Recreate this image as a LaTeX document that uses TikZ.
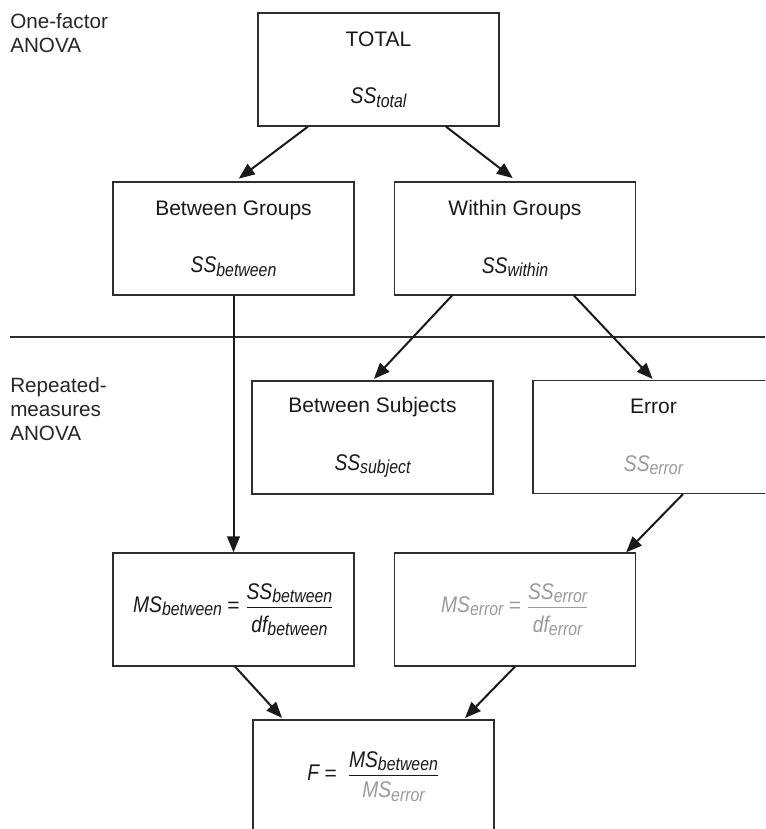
\documentclass[tikz,border=0pt]{standalone}
\usepackage{fontspec}
\setmainfont{Liberation Sans}
\usepackage{amsmath}
\usepackage{graphicx}
\usetikzlibrary{arrows.meta,calc}
\definecolor{errgray}{HTML}{9A9A9A}
\definecolor{boxline}{HTML}{2E2E2E}
\newcommand{\anovaterm}[2]{\mbox{\scalebox{0.85}[1]{\fontsize{17}{19}\selectfont\itshape
  #1\raisebox{-2.5pt}{\fontsize{14}{16}\selectfont #2}}}}
\newcommand{\anovaeq}{\mathrel{\text{=}}}
\newcommand{\denstrut}[1]{\rule{0pt}{#1}}
\tikzset{
  sumbox/.style={draw=boxline, line width=0.9pt, minimum width=180.75pt,
                 minimum height=84.75pt, inner sep=0pt, align=center, text=black!90,
                 font=\fontsize{15.75}{19}\selectfont},
  flow/.style={-{Triangle[length=12pt,width=9.5pt]}, line width=1.5pt, black!90},
  sidelabel/.style={anchor=north west, align=left, inner sep=0pt, text=black!85,
                    font=\fontsize{15.5}{18}\selectfont},
}

\begin{document}
\begin{tikzpicture}[x=0.75pt, y=-0.75pt]
    \useasboundingbox (0,0) rectangle (765,829);
    \clip (0,0) rectangle (765,829);
    \node[sidelabel] (onefactor) at (10,13.5) {One-factor\\ANOVA};
    \node[sidelabel] (repeated) at (10,377.5) {Repeated-\\measures\\ANOVA};
    \draw[boxline, line width=0.8pt] (10,337) -- (765,337);
    \node[sumbox] (total) at (378.5,69.5) {TOTAL\\[24pt]\anovaterm{SS}{total}};
    \node[sumbox] (bgroups) at (233.5,238.5) {Between Groups\\[24pt]\anovaterm{SS}{between}};
    \node[sumbox] (wgroups) at (515,238.5) {Within Groups\\[24pt]\anovaterm{SS}{within}};
    \node[sumbox] (bsubj) at (372.5,437.5) {Between Subjects\\[24pt]\anovaterm{SS}{subject}};
    \node[sumbox] (err) at (653.5,437) {Error\\[24pt]\textcolor{errgray}{\anovaterm{SS}{error}}};
    \node[sumbox] (msb) at (233.5,609.5)
      {$\anovaterm{MS}{between} \anovaeq
        \dfrac{\anovaterm{SS}{between}}{\denstrut{16.5pt}\anovaterm{df}{between}}$};
    \node[sumbox, text=errgray] (mse) at (515,609.5)
      {$\anovaterm{MS}{error} \anovaeq
        \dfrac{\anovaterm{SS}{error}}{\denstrut{16.5pt}\anovaterm{df}{error}}$};
    \node[sumbox] (fratio) at (373.5,776.5)
      {$\mbox{\scalebox{0.85}[1]{\fontsize{17}{19}\selectfont\itshape F}} \anovaeq\;
        \dfrac{\anovaterm{MS}{between}}{\denstrut{14.5pt}\textcolor{errgray}{\anovaterm{MS}{error}}}$};
    \draw[flow, shorten >=3.5pt] ($(total.south)+(-70.5,0)$) -- ($(bgroups.north)+(1.5,0)$);
    \draw[flow, shorten >=4pt] ($(total.south)+(67.5,0)$) -- ($(wgroups.north)+(2,0)$);
    \draw[flow] (bgroups.south) -- (msb.north);
    \draw[flow, shorten >=1.5pt] ($(wgroups.south)+(-63,0)$) -- (bsubj.north);
    \draw[flow, shorten >=1pt] ($(wgroups.south)+(59,0)$) -- (err.north);
    \draw[flow] ($(err.south)+(29.5,0)$) -- ($(mse.north east)+(-10,0)$);
    \draw[flow, shorten >=1.5pt] ($(msb.south)+(1.5,0)$) -- ($(fratio.north west)+(31,0)$);
    \draw[flow, shorten >=1.5pt] (mse.south) -- ($(fratio.north east)+(-31,0)$);
  \end{tikzpicture}
\end{document}
